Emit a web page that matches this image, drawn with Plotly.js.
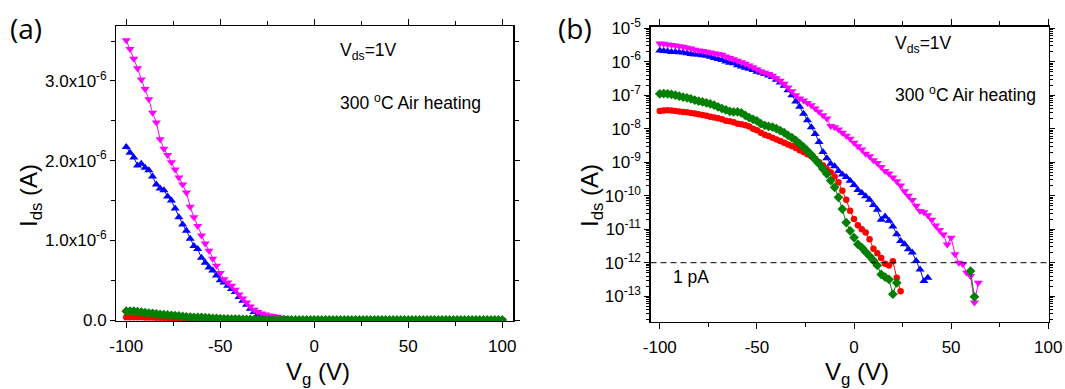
<!DOCTYPE html>
<html>
<head>
<meta charset="utf-8">
<script src="https://cdn.plot.ly/plotly-3.0.1.min.js"></script>
<style>
html,body{margin:0;padding:0;background:#fff;}
#chart{width:1065px;height:389px;}
</style>
</head>
<body>
<div id="chart"></div>
<script>
// Gate voltage (V)
const vg = [
 -100,-98,-96,-94,-92,-90,-88,-86,-84,-82,
 -80,-78,-76,-74,-72,-70,-68,-66,-64,-62,
 -60,-58,-56,-54,-52,-50,-48,-46,-44,-42,
 -40,-38,-36,-34,-32,-30,-28,-26,-24,-22,
 -20,-18,-16,-14,-12,-10,-8,-6,-4,-2,
 0,2,4,6,8,10,12,14,16,18,
 20,22,24,26,28,30,32,34,36,38,
 40,42,44,46,48,50,52,54,56,58,
 60,62,64,66,68,70,72,74,76,78,
 80,82,84,86,88,90,92,94,96,98,
 100];

// Drain current (A), red circles (0 = below noise floor, not shown on log scale)
const idsRed = [
 3.39e-8,3.47e-8,3.55e-8,3.47e-8,3.39e-8,3.24e-8,3.16e-8,3.09e-8,2.95e-8,2.82e-8,
 2.69e-8,2.57e-8,2.45e-8,2.29e-8,2.14e-8,2.04e-8,1.91e-8,1.74e-8,1.66e-8,1.55e-8,
 1.41e-8,1.35e-8,1.26e-8,1.17e-8,1.00e-8,8.91e-9,7.59e-9,6.61e-9,6.03e-9,5.37e-9,
 4.79e-9,4.27e-9,3.80e-9,3.39e-9,3.02e-9,2.63e-9,2.29e-9,2.00e-9,1.74e-9,1.51e-9,
 1.26e-9,1.00e-9,7.94e-10,6.31e-10,5.01e-10,3.72e-10,2.51e-10,1.41e-10,7.59e-11,3.55e-11,
 2.00e-11,1.32e-11,1.00e-11,7.94e-12,5.01e-12,2.63e-12,1.91e-12,1.38e-12,9.33e-13,8.32e-13,
 1.10e-12,3.55e-13,1.41e-13,0,0,0,0,0,0,0,
 0,0,0,0,0,0,0,0,0,0,
 0,0,0,0,0,0,0,0,0,0,
 0,0,0,0,0,0,0,0,0,0,
 0];

// green diamonds
const idsGreen = [
 1.10e-7,1.12e-7,1.10e-7,1.05e-7,1.00e-7,9.33e-8,8.71e-8,8.32e-8,7.76e-8,7.08e-8,
 6.61e-8,6.31e-8,5.89e-8,5.50e-8,5.01e-8,4.47e-8,3.98e-8,3.63e-8,3.31e-8,3.16e-8,
 3.16e-8,2.95e-8,2.51e-8,2.14e-8,1.91e-8,1.70e-8,1.41e-8,1.26e-8,1.17e-8,1.12e-8,
 1.00e-8,8.71e-9,7.59e-9,6.31e-9,5.37e-9,4.47e-9,3.55e-9,2.82e-9,2.19e-9,1.66e-9,
 1.20e-9,8.91e-10,6.31e-10,4.47e-10,2.82e-10,1.78e-10,8.91e-11,3.98e-11,1.58e-11,8.91e-12,
 5.62e-12,3.55e-12,2.82e-12,2.09e-12,1.58e-12,1.17e-12,8.32e-13,4.47e-13,3.72e-13,3.16e-13,
 1.15e-13,2.51e-13,0,0,0,0,0,0,0,0,
 0,0,0,0,0,0,0,0,0,0,
 5.62e-13,9.55e-14,0,0,0,0,0,0,0,0,
 0,0,0,0,0,0,0,0,0,0,
 0];

// blue up-triangles
const idsBlue = [
 2.17e-6,2.10e-6,2.04e-6,1.94e-6,1.96e-6,1.91e-6,1.88e-6,1.80e-6,1.70e-6,1.65e-6,
 1.63e-6,1.55e-6,1.50e-6,1.40e-6,1.29e-6,1.20e-6,1.12e-6,1.02e-6,9.3e-7,8.9e-7,
 7.8e-7,7.2e-7,6.6e-7,6.2e-7,5.6e-7,5.0e-7,4.7e-7,4.3e-7,3.9e-7,3.5e-7,
 2.9e-7,2.4e-7,1.9e-7,1.4e-7,1.0e-7,6.5e-8,4.5e-8,2.8e-8,1.8e-8,1.1e-8,
 7.0e-9,4.0e-9,2.0e-9,1.3e-9,9.0e-10,7.6e-10,5.5e-10,4.3e-10,3.6e-10,2.8e-10,
 2.09e-10,1.48e-10,1.20e-10,9.55e-11,7.59e-11,5.25e-11,3.80e-11,1.91e-11,2.40e-11,1.78e-11,
 1.20e-11,7.08e-12,4.47e-12,3.55e-12,2.51e-12,2.00e-12,1.12e-12,6.31e-13,2.82e-13,3.55e-13,
 0,0,0,0,0,0,0,0,0,0,
 0,0,0,0,0,0,0,0,0,0,
 0,0,0,0,0,0,0,0,0,0,
 0];

// magenta down-triangles
const idsMagenta = [
 3.51e-6,3.40e-6,3.28e-6,3.16e-6,3.02e-6,2.90e-6,2.77e-6,2.60e-6,2.48e-6,2.27e-6,
 2.15e-6,2.07e-6,1.98e-6,1.89e-6,1.79e-6,1.70e-6,1.60e-6,1.42e-6,1.29e-6,1.18e-6,
 1.06e-6,9.6e-7,8.7e-7,7.7e-7,6.8e-7,5.9e-7,5.1e-7,4.7e-7,4.3e-7,3.8e-7,
 3.2e-7,2.7e-7,2.2e-7,1.7e-7,1.3e-7,1.0e-7,8.0e-8,6.9e-8,5.8e-8,5.0e-8,
 4.0e-8,3.2e-8,2.5e-8,2.0e-8,1.2e-8,1.1e-8,9.5e-9,7.6e-9,6.2e-9,5.0e-9,
 3.8e-9,3.0e-9,2.4e-9,1.8e-9,1.5e-9,1.15e-9,9.5e-10,7.2e-10,5.5e-10,4.6e-10,
 3.5e-10,2.7e-10,2.0e-10,1.35e-10,1.0e-10,7.5e-11,5.0e-11,3.5e-11,3.2e-11,2.6e-11,
 1.9e-11,1.3e-11,9.5e-12,7.0e-12,3.5e-12,5.6e-12,1.8e-12,1.0e-12,9.0e-13,5.0e-13,
 4.0e-13,6.5e-14,2.5e-13,0,0,0,0,0,0,0,
 0,0,0,0,0,0,0,0,0,0,
 0];

// Tick labels
const xTickVals = [-100,-50,0,50,100];
const xTickText = ['-100','-50','0','50','100'];
const linTickVals = [0,1e-6,2e-6,3e-6];
const linTickText = ['0.0','1.0x10<sup>-6</sup>','2.0x10<sup>-6</sup>','3.0x10<sup>-6</sup>'];
const logTickVals = [1e-13,1e-12,1e-11,1e-10,1e-9,1e-8,1e-7,1e-6,1e-5];
const logTickText = ['10<sup>-13</sup>','10<sup>-12</sup>','10<sup>-11</sup>','10<sup>-10</sup>','10<sup>-9</sup>','10<sup>-8</sup>','10<sup>-7</sup>','10<sup>-6</sup>','10<sup>-5</sup>'];
const onePA = 1e-12;

const W = 1065, H = 389;
const px = x => x / W;
const py = y => 1 - y / H;
const FONT = '"Liberation Sans", Arial, sans-serif';

const series = [
  {y: idsRed, color: '#ff0000', symbol: 'circle', size: 6.5},
  {y: idsBlue, color: '#0000ff', symbol: 'triangle-up', size: 8},
  {y: idsMagenta, color: '#ff00ff', symbol: 'triangle-down', size: 8},
  {y: idsGreen, color: '#008000', symbol: 'diamond', size: 7.5}
];

const traces = [];
[['x','y',false],['x2','y2',true]].forEach(([xa, ya, isLog]) => {
  series.forEach(s => {
    traces.push({
      type: 'scatter', mode: 'lines+markers', x: vg,
      y: isLog ? s.y.map(v => (v > 0 ? v : null)) : s.y,
      xaxis: xa, yaxis: ya, connectgaps: false,
      line: {color: s.color, width: 1},
      marker: {color: s.color, symbol: s.symbol, size: s.size, line: {width: 0}},
      hoverinfo: 'skip'
    });
  });
});

const axCommon = {
  showline: true, linecolor: '#000', linewidth: 1.2, mirror: 'allticks',
  ticks: 'outside', ticklen: 6, tickwidth: 1, tickcolor: '#000',
  showgrid: false, zeroline: false,
  tickfont: {family: FONT, size: 17, color: '#000'}
};

const layout = {
  width: W, height: H,
  margin: {l: 0, r: 0, t: 0, b: 0},
  showlegend: false,
  paper_bgcolor: '#fff', plot_bgcolor: '#fff',
  font: {family: FONT, size: 17, color: '#000'},
  xaxis: Object.assign({}, axCommon, {
    domain: [px(116.3), px(513.3)], range: [-105.3, 105.9], anchor: 'y',
    tickmode: 'array', tickvals: xTickVals, ticktext: xTickText,
    minor: {tickmode: 'linear', tick0: 0, dtick: 25, ticks: 'outside', ticklen: 4, tickcolor: '#000', showgrid: false},
    ticklabelstandoff: 3
  }),
  yaxis: Object.assign({}, axCommon, {
    domain: [py(321), py(26)], range: [-1.26e-8, 3.69e-6], anchor: 'x',
    tickmode: 'array', tickvals: linTickVals, ticktext: linTickText,
    minor: {tickmode: 'linear', tick0: 0, dtick: 5e-7, ticks: 'outside', ticklen: 4, tickcolor: '#000', showgrid: false},
    ticklen: 5
  }),
  xaxis2: Object.assign({}, axCommon, {
    domain: [px(650.5), px(1049)], range: [-104.8, 100.4], anchor: 'y2',
    tickmode: 'array', tickvals: xTickVals, ticktext: xTickText,
    minor: {tickmode: 'linear', tick0: 0, dtick: 25, ticks: 'outside', ticklen: 4, tickcolor: '#000', showgrid: false},
    ticklabelstandoff: 3
  }),
  yaxis2: Object.assign({}, axCommon, {
    type: 'log',
    domain: [py(322), py(26.5)], range: [-13.77, -4.95], anchor: 'x2',
    tickmode: 'array', tickvals: logTickVals, ticktext: logTickText,
    minor: {dtick: 'D1', ticks: 'outside', ticklen: 3, tickcolor: '#000', showgrid: false},
    ticklen: 5
  }),
  shapes: [{
    type: 'line', xref: 'x2 domain', x0: 0, x1: 1, yref: 'y2', y0: onePA, y1: onePA,
    line: {color: '#000', width: 1, dash: '6px,4px'}
  }],
  annotations: [
    {text: '(a)', x: px(8), y: py(28), xanchor: 'left', yanchor: 'middle', font: {family: '"Open Sans", sans-serif', size: 28}},
    {text: '(b)', x: px(556), y: py(28), xanchor: 'left', yanchor: 'middle', font: {family: '"Open Sans", sans-serif', size: 28}},
    {text: 'I<sub>ds</sub> (A)', x: px(30), y: py(196), textangle: -90, xanchor: 'center', yanchor: 'middle', font: {size: 24}},
    {text: 'I<sub>ds</sub> (A)', x: px(591), y: py(196), textangle: -90, xanchor: 'center', yanchor: 'middle', font: {size: 24}},
    {text: 'V<sub>g</sub> (V)', x: px(318), y: py(373), xanchor: 'center', yanchor: 'middle', font: {size: 24}},
    {text: 'V<sub>g</sub> (V)', x: px(857), y: py(373), xanchor: 'center', yanchor: 'middle', font: {size: 24}},
    {text: 'V<sub>ds</sub>=1V', x: px(338), y: py(52), xanchor: 'left', yanchor: 'middle', font: {size: 17.5}},
    {text: '300 <sup>o</sup>C Air heating', x: px(338), y: py(102), xanchor: 'left', yanchor: 'middle', font: {size: 17.5}},
    {text: 'V<sub>ds</sub>=1V', x: px(893), y: py(44), xanchor: 'left', yanchor: 'middle', font: {size: 17.5}},
    {text: '300 <sup>o</sup>C Air heating', x: px(893), y: py(94), xanchor: 'left', yanchor: 'middle', font: {size: 17.5}},
    {text: '1 pA', x: px(671), y: py(277), xanchor: 'left', yanchor: 'middle', font: {size: 17.5}}
  ].map(a => Object.assign({xref: 'paper', yref: 'paper', showarrow: false}, a))
};

Plotly.newPlot('chart', traces, layout, {staticPlot: true, displayModeBar: false});
</script>
</body>
</html>
